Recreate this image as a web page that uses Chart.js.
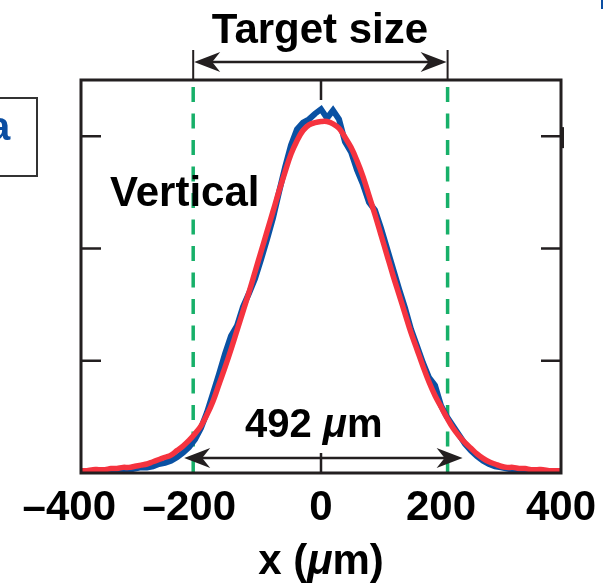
<!DOCTYPE html>
<html>
<head>
<meta charset="utf-8">
<script src="https://cdn.jsdelivr.net/npm/chart.js@4.4.0/dist/chart.umd.min.js"></script>
<style>
  body { margin: 0; background: #fff; }
  #wrap { width: 603px; height: 587px; }
</style>
</head>
<body>
<div id="wrap"><canvas id="profile" width="603" height="587"></canvas></div>
<script>
// beam position (um)
const positions = [
  -400, -390, -380, -370, -360, -350, -340, -330, -320, -310,
  -300, -290, -280, -270, -260, -250, -240, -230, -220, -210,
  -200, -190, -180, -170, -160, -150, -140, -130, -120, -110,
  -100, -90, -80, -70, -60, -50, -40, -30, -20, -10,
  0, 10, 20, 30, 40, 50, 60, 70, 80, 90,
  100, 110, 120, 130, 140, 150, 160, 170, 180, 190,
  200, 210, 220, 230, 240, 250, 260, 270, 280, 290,
  300, 310, 320, 330, 340, 350, 360, 370, 380, 390, 400
];
// measured vertical profile (blue)
const measured = [
  0.01, 0.01, 0.01, 0.02, 0.02, 0.02, 0.03, 0.03, 0.03, 0.04,
  0.05, 0.05, 0.06, 0.08, 0.09, 0.11, 0.14, 0.18, 0.23, 0.30,
  0.40, 0.54, 0.71, 0.88, 1.06, 1.22, 1.31, 1.48, 1.60, 1.73,
  1.90, 2.08, 2.27, 2.50, 2.72, 2.92, 3.06, 3.12, 3.15, 3.20,
  3.24, 3.16, 3.23, 3.15, 2.95, 2.86, 2.70, 2.57, 2.41, 2.34,
  2.18, 2.00, 1.82, 1.64, 1.47, 1.28, 1.13, 0.98, 0.85, 0.78,
  0.60, 0.50, 0.42, 0.34, 0.26, 0.20, 0.15, 0.11, 0.08, 0.06,
  0.05, 0.04, 0.03, 0.03, 0.02, 0.02, 0.02, 0.01, 0.01, 0.01, 0.01
];
// gaussian fit (red)
const gaussFit = [
  0.02, 0.02, 0.03, 0.03, 0.03, 0.04, 0.04, 0.05, 0.05, 0.06,
  0.07, 0.08, 0.10, 0.12, 0.14, 0.16, 0.20, 0.24, 0.29, 0.35,
  0.42, 0.52, 0.64, 0.79, 0.94, 1.10, 1.27, 1.44, 1.61, 1.79,
  1.97, 2.15, 2.33, 2.51, 2.68, 2.84, 2.96, 3.05, 3.10, 3.12,
  3.13, 3.13, 3.11, 3.07, 2.99, 2.90, 2.78, 2.64, 2.47, 2.30,
  2.12, 1.94, 1.76, 1.59, 1.42, 1.25, 1.10, 0.95, 0.81, 0.69,
  0.59, 0.49, 0.40, 0.33, 0.27, 0.22, 0.17, 0.13, 0.10, 0.08,
  0.06, 0.05, 0.05, 0.04, 0.04, 0.03, 0.03, 0.03, 0.02, 0.02, 0.02
];
const xTicks = [-400, -200, 0, 200, 400];
const yTicks = [1, 2, 3];
const targetEdges = [-213, 211];
const widthEdges = [-228, 236];

const FONT = '"Liberation Sans", Arial, Helvetica, sans-serif';
const INK = '#231f20';

function drawRuns(ctx, runs, x, y, center) {
  let total = 0;
  runs.forEach(r => { ctx.font = r[1] + ' ' + FONT; total += ctx.measureText(r[0]).width; });
  let cx = center ? x - total / 2 : x;
  ctx.textAlign = 'left';
  ctx.textBaseline = 'alphabetic';
  runs.forEach(r => {
    ctx.font = r[1] + ' ' + FONT;
    ctx.fillText(r[0], cx, y);
    cx += ctx.measureText(r[0]).width;
  });
}

function arrowHead(ctx, tipX, y, dir) {
  ctx.beginPath();
  ctx.moveTo(tipX, y);
  ctx.lineTo(tipX - dir * 26, y - 10);
  ctx.lineTo(tipX - dir * 18, y);
  ctx.lineTo(tipX - dir * 26, y + 10);
  ctx.closePath();
  ctx.fill();
}

function doubleArrow(ctx, x1, x2, y) {
  ctx.beginPath();
  ctx.moveTo(x1 + 10, y);
  ctx.lineTo(x2 - 10, y);
  ctx.stroke();
  arrowHead(ctx, x1, y, -1);
  arrowHead(ctx, x2, y, 1);
}

const overlay = {
  id: 'overlay',
  afterDatasetsDraw(chart) {
    const { ctx, chartArea: a, scales: { x, y } } = chart;
    ctx.save();
    ctx.strokeStyle = INK;
    ctx.fillStyle = INK;

    // frame
    ctx.lineWidth = 3;
    ctx.strokeRect(a.left, a.top, a.right - a.left, a.bottom - a.top);

    // inward tick marks
    ctx.lineWidth = 2.5;
    yTicks.forEach(v => {
      const py = y.getPixelForValue(v);
      ctx.beginPath();
      ctx.moveTo(a.left, py); ctx.lineTo(a.left + 20, py);
      ctx.moveTo(a.right, py); ctx.lineTo(a.right - 20, py);
      ctx.stroke();
    });
    const x0 = x.getPixelForValue(0);
    ctx.beginPath();
    ctx.moveTo(x0, a.top); ctx.lineTo(x0, a.top + 20);
    ctx.moveTo(x0, a.bottom); ctx.lineTo(x0, a.bottom - 20);
    ctx.stroke();
    ctx.lineWidth = 3;
    ctx.beginPath();
    ctx.moveTo(a.right + 1.5, y.getPixelForValue(3) - 9);
    ctx.lineTo(a.right + 1.5, y.getPixelForValue(3) + 12);
    ctx.stroke();

    // target size arrow
    const tl = x.getPixelForValue(targetEdges[0]);
    const tr = x.getPixelForValue(targetEdges[1]);
    ctx.lineWidth = 2;
    ctx.beginPath();
    ctx.moveTo(tl, 50); ctx.lineTo(tl, a.top);
    ctx.moveTo(tr, 50); ctx.lineTo(tr, a.top);
    ctx.stroke();
    ctx.lineWidth = 2.5;
    doubleArrow(ctx, tl + 1, tr - 1, 62);

    // width arrow
    doubleArrow(ctx, x.getPixelForValue(widthEdges[0]), x.getPixelForValue(widthEdges[1]), 458);

    // labels
    ctx.fillStyle = '#000';
    drawRuns(ctx, [['Target size', 'bold 42px']], 320, 43, true);
    drawRuns(ctx, [['Vertical', 'bold 42px']], 110, 206, false);
    drawRuns(ctx, [['492 ', 'bold 40px'], ['\u03bc', 'italic bold 40px'], ['m', 'bold 40px']], 245, 437, false);
    drawRuns(ctx, [['x (', 'bold 42px'], ['\u03bc', 'italic bold 42px'], ['m)', 'bold 42px']], 321, 574, true);

    // neighbouring panel label box
    ctx.strokeStyle = '#333';
    ctx.lineWidth = 2;
    ctx.strokeRect(-5, 98, 42, 78);
    ctx.fillStyle = '#0b4ea2';
    ctx.font = 'bold 40px ' + FONT;
    ctx.textAlign = 'left';
    ctx.fillText('a', -12, 140);
    ctx.fillRect(601, 0, 2, 9);
    ctx.restore();
  }
};

new Chart(document.getElementById('profile'), {
  type: 'line',
  data: {
    datasets: [
      {
        label: 'Gaussian fit',
        data: positions.map((p, i) => ({ x: p, y: gaussFit[i] })),
        borderColor: '#f5333f',
        borderWidth: 5.5,
        pointRadius: 0,
        tension: 0.4,
        order: 0
      },
      {
        label: 'Measured',
        data: positions.map((p, i) => ({ x: p, y: measured[i] })),
        borderColor: '#0a51a3',
        borderWidth: 6,
        pointRadius: 0,
        tension: 0,
        order: 1
      },
      {
        label: 'Target left',
        data: [{ x: targetEdges[0], y: 0 }, { x: targetEdges[0], y: 3.5 }],
        borderColor: '#17b069',
        borderWidth: 3.5,
        borderDash: [15, 11.5],
        pointRadius: 0,
        order: 2
      },
      {
        label: 'Target right',
        data: [{ x: targetEdges[1], y: 0 }, { x: targetEdges[1], y: 3.5 }],
        borderColor: '#17b069',
        borderWidth: 3.5,
        borderDash: [15, 11.5],
        pointRadius: 0,
        order: 2
      }
    ]
  },
  options: {
    responsive: false,
    animation: false,
    layout: { padding: { left: 81, right: 42, top: 80, bottom: 0 } },
    plugins: { legend: { display: false }, tooltip: { enabled: false } },
    scales: {
      x: {
        type: 'linear',
        min: -400,
        max: 400,
        afterBuildTicks: scale => { scale.ticks = xTicks.map(v => ({ value: v })); },
        afterFit: scale => {
          scale.height = 114;
          scale.paddingLeft = 0;
          scale.paddingRight = 0;
        },
        grid: { display: false, drawTicks: false },
        border: { display: false },
        ticks: {
          autoSkip: false,
          maxRotation: 0,
          padding: 10,
          color: '#000',
          font: { family: FONT, size: 42, weight: 'bold' },
          // trailing spaces balance the dash so the digits sit centred on the tick
          callback: v => v < 0 ? '\u2013' + Math.abs(v) + '  ' : String(v)
        }
      },
      y: {
        display: false,
        min: 0,
        max: 3.5
      }
    }
  },
  plugins: [overlay]
});
</script>
</body>
</html>
